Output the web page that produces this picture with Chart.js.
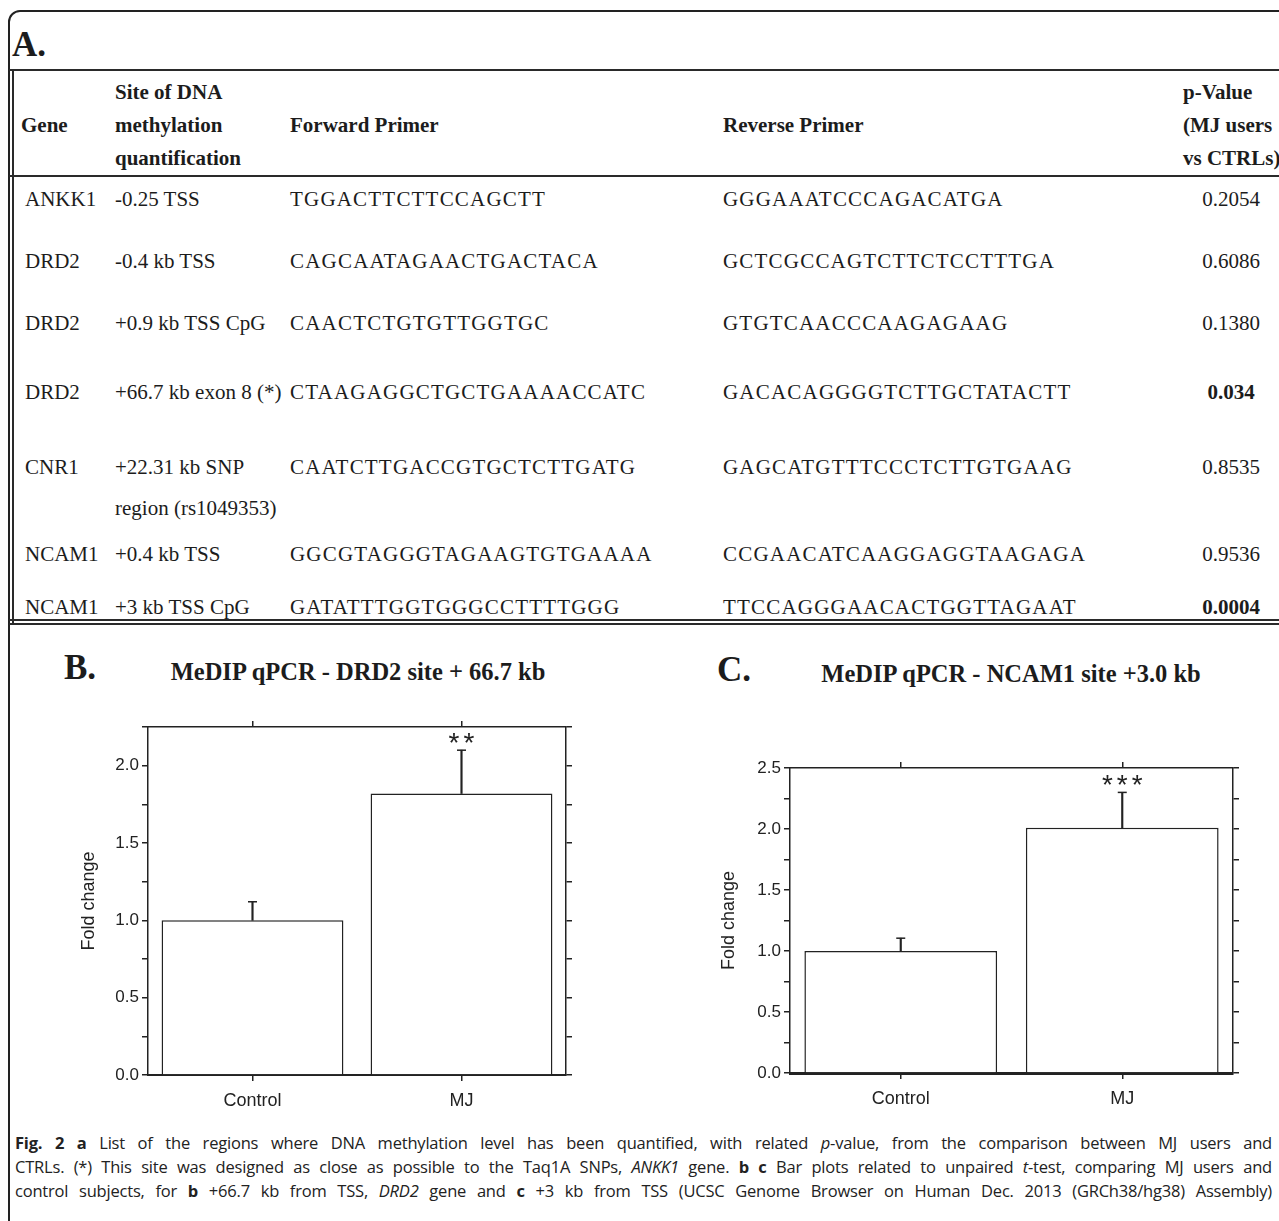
<!DOCTYPE html>
<html>
<head>
<meta charset="utf-8">
<script src="https://cdn.jsdelivr.net/npm/chart.js@4.4.1/dist/chart.umd.min.js"></script>
<style>
  html, body { margin:0; padding:0; background:#fff; }
  body { width:1279px; height:1221px; position:relative; overflow:hidden; color:#1c1c1c;
         font-family:"Liberation Serif","Times New Roman",serif; }
  .frame { position:absolute; left:8px; top:10px; width:1320px; height:1260px; border:2px solid #222;
           border-radius:12px; box-sizing:border-box; }
  .txt { position:absolute; white-space:nowrap; line-height:24px; height:24px; margin-top:-12px; font-size:21px; }
  .primer { letter-spacing:1.2px; }
  .ctr { transform:translateX(-50%); }
  .bold { font-weight:bold; }
  .hline { position:absolute; left:9px; width:1280px; background:#2a2a2a; }
  .vline { position:absolute; background:#2a2a2a; }
  .panel { position:absolute; font-weight:bold; font-size:35px; line-height:38px; margin-top:-19px; }
  .ctitle { position:absolute; font-weight:bold; font-size:24.5px; line-height:28px; margin-top:-14px;
            transform:translateX(-50%); white-space:nowrap; }
  .chartbox { position:absolute; }
  .cap { position:absolute; left:15px; width:1257px; font-family:"Open Sans",sans-serif; font-size:16.5px;
         letter-spacing:-0.2px; line-height:22px; margin-top:-11px; text-align:justify; text-align-last:justify; color:#222; }
</style>
</head>
<body>
<div class="frame"></div>
<div class="panel" style="left:12px; top:45px;">A.</div>
<div class="hline" style="top:69px;height:2px;"></div>
<div class="hline" style="top:175px;height:2px;"></div>
<div class="hline" style="top:619px;height:1.5px;"></div>
<div class="hline" style="top:623px;height:1.5px;"></div>
<div class="vline" style="left:12px;top:70px;width:1.5px;height:555px;"></div>
<div id="table"></div>

<div class="panel" style="left:64px; top:668px;">B.</div>
<div class="ctitle" style="left:358px; top:672px;">MeDIP qPCR - DRD2 site + 66.7 kb</div>
<div class="chartbox" style="left:74px; top:707px; width:502px; height:413px;"><canvas id="chartB"></canvas></div>

<div class="panel" style="left:717px; top:670px;">C.</div>
<div class="ctitle" style="left:1011px; top:674px;">MeDIP qPCR - NCAM1 site +3.0 kb</div>
<div class="chartbox" style="left:714px; top:748px; width:529px; height:370px;"><canvas id="chartC"></canvas></div>

<div class="cap" style="top:1143px;"><b>Fig. 2 a</b> List of the regions where DNA methylation level has been quantified, with related <i>p</i>-value, from the comparison between MJ users and</div>
<div class="cap" style="top:1167px;">CTRLs. (*) This site was designed as close as possible to the Taq1A SNPs, <i>ANKK1</i> gene. <b>b c</b> Bar plots related to unpaired <i>t</i>-test, comparing MJ users and</div>
<div class="cap" style="top:1191px;">control subjects, for <b>b</b> +66.7 kb from TSS, <i>DRD2</i> gene and <b>c</b> +3 kb from TSS (UCSC Genome Browser on Human Dec. 2013 (GRCh38/hg38) Assembly)</div>

<script>
// ---------- Table data ----------
const headerGene = 'Gene';
const headerSite = ['Site of DNA', 'methylation', 'quantification'];
const headerForward = 'Forward Primer';
const headerReverse = 'Reverse Primer';
const headerP = ['p-Value', '(MJ users', 'vs CTRLs)'];
const genes = ['ANKK1', 'DRD2', 'DRD2', 'DRD2', 'CNR1', 'NCAM1', 'NCAM1'];
const sites = [['-0.25 TSS'], ['-0.4 kb TSS'], ['+0.9 kb TSS CpG'], ['+66.7 kb exon 8 (*)'],
               ['+22.31 kb SNP', 'region (rs1049353)'], ['+0.4 kb TSS'], ['+3 kb TSS CpG']];
const forwardPrimers = ['TGGACTTCTTCCAGCTT', 'CAGCAATAGAACTGACTACA', 'CAACTCTGTGTTGGTGC',
                        'CTAAGAGGCTGCTGAAAACCATC', 'CAATCTTGACCGTGCTCTTGATG',
                        'GGCGTAGGGTAGAAGTGTGAAAA', 'GATATTTGGTGGGCCTTTTGGG'];
const reversePrimers = ['GGGAAATCCCAGACATGA', 'GCTCGCCAGTCTTCTCCTTTGA', 'GTGTCAACCCAAGAGAAG',
                        'GACACAGGGGTCTTGCTATACTT', 'GAGCATGTTTCCCTCTTGTGAAG',
                        'CCGAACATCAAGGAGGTAAGAGA', 'TTCCAGGGAACACTGGTTAGAAT'];
const pValues = ['0.2054', '0.6086', '0.1380', '0.034', '0.8535', '0.9536', '0.0004'];
const pSignificant = [false, false, false, true, false, false, true];

// ---------- Chart data ----------
const categories = ['Control', 'MJ'];
const drd2Means = [1.00, 1.82];
const drd2Errors = [0.12, 0.28];
const drd2Stars = ['', '**'];
const drd2YMax = 2.25;
const ncam1Means = [1.00, 2.01];
const ncam1Errors = [0.105, 0.29];
const ncam1Stars = ['', '***'];
const ncam1YMax = 2.5;
const yStep = 0.25;

// ---------- Table layout ----------
const colX = { gene: 25, site: 115, fwd: 290, rev: 723, pHead: 1183, p: 1231 };
const headerY = [92, 125, 158];
const rowY = [199, 261, 323, 392, 467, 554, 607];
const subLineGap = 41;

const tableEl = document.getElementById('table');
function addText(text, x, y, cls) {
  const d = document.createElement('div');
  d.className = 'txt ' + (cls || '');
  d.style.left = x + 'px';
  d.style.top = y + 'px';
  d.textContent = text;
  tableEl.appendChild(d);
}
addText(headerGene, 21, headerY[1], 'bold');
headerSite.forEach((t, i) => addText(t, colX.site, headerY[i], 'bold'));
addText(headerForward, colX.fwd, headerY[1], 'bold');
addText(headerReverse, colX.rev, headerY[1], 'bold');
headerP.forEach((t, i) => addText(t, colX.pHead, headerY[i], 'bold'));
genes.forEach((g, i) => {
  addText(g, colX.gene, rowY[i]);
  sites[i].forEach((s, k) => addText(s, colX.site, rowY[i] + k * subLineGap));
  addText(forwardPrimers[i], colX.fwd, rowY[i], 'primer');
  addText(reversePrimers[i], colX.rev, rowY[i], 'primer');
  addText(pValues[i], colX.p, rowY[i], 'ctr' + (pSignificant[i] ? ' bold' : ''));
});

// ---------- Charts ----------
const ink = '#222';
const sansFamily = '"Liberation Sans", Arial, Helvetica, sans-serif';

const starPlugin = {
  id: 'stars',
  afterDatasetsDraw(chart, args, opts) {
    const { ctx } = chart;
    const x = chart.scales.x, y = chart.scales.y;
    ctx.save();
    ctx.fillStyle = ink;
    ctx.font = '28px ' + sansFamily;
    ctx.textAlign = 'center';
    ctx.textBaseline = 'alphabetic';
    try { ctx.letterSpacing = '4px'; } catch (e) {}
    opts.labels.forEach((s, i) => {
      if (!s) return;
      const cx = x.getPixelForValue(i);
      const cy = y.getPixelForValue(opts.means[i] + opts.errors[i]);
      ctx.fillText(s, cx + 2, cy + 2);
    });
    ctx.restore();
  }
};

function buildChart(canvasId, means, errors, stars, yMax, yWidth, baseWidth) {
  const capValues = means.map((m, i) => m + errors[i]);
  const stems = means.map((m, i) => [m, m + errors[i]]);
  const gridCommon = { drawOnChartArea: false, tickLength: 6, color: ink, lineWidth: 1.5 };
  const isMajor = v => Math.round(v / yStep) % 2 === 0;
  return new Chart(document.getElementById(canvasId), {
    type: 'bar',
    data: {
      labels: categories,
      datasets: [
        { label: 'Fold change', data: means, backgroundColor: '#ffffff', borderColor: ink, borderWidth: 1.5,
          categoryPercentage: 1, barPercentage: 0.87, grouped: false, order: 3 },
        { label: 'SEM', data: stems, backgroundColor: ink, borderColor: ink, borderWidth: 0,
          barThickness: 1.5, grouped: false, order: 2 },
        { type: 'line', label: 'SEM cap', data: capValues, showLine: false, pointStyle: 'line',
          pointRadius: 4.5, pointHoverRadius: 4.5, pointBorderColor: ink, pointBorderWidth: 1.5, order: 1 }
      ]
    },
    options: {
      responsive: true, maintainAspectRatio: false, animation: false, devicePixelRatio: 1,
      events: [],
      layout: { padding: 0 },
      plugins: { legend: { display: false }, tooltip: { enabled: false },
                 stars: { labels: stars, means: means, errors: errors } },
      scales: {
        x: { type: 'category', position: 'bottom', offset: true,
             grid: Object.assign({ offset: false }, gridCommon),
             border: { display: true, color: ink, width: baseWidth },
             ticks: { color: ink, font: { family: sansFamily, size: 18 }, padding: 9 },
             afterFit(s) { s.height = 45; } },
        x2: { type: 'category', labels: categories, position: 'top', offset: true,
              grid: Object.assign({ offset: false }, gridCommon),
              border: { display: true, color: ink, width: 1.5 },
              ticks: { display: false },
              afterFit(s) { s.height = 20; } },
        y: { type: 'linear', position: 'left', min: 0, max: yMax,
             grid: gridCommon,
             border: { display: true, color: ink, width: 1.5 },
             ticks: { stepSize: yStep, color: ink, font: { family: sansFamily, size: 17 }, padding: 3,
                      autoSkip: false,
                      callback: v => isMajor(v) ? v.toFixed(1) : '' },
             title: { display: true, text: 'Fold change', color: ink, font: { family: sansFamily, size: 18 },
                      padding: { top: 4, bottom: 4 } },
             afterFit(s) { s.width = yWidth; } },
        y2: { type: 'linear', position: 'right', min: 0, max: yMax,
              grid: gridCommon,
              border: { display: true, color: ink, width: 1.5 },
              ticks: { stepSize: yStep, display: false },
              afterFit(s) { s.width = 10; } }
      }
    },
    plugins: [starPlugin]
  });
}

buildChart('chartB', drd2Means, drd2Errors, drd2Stars, drd2YMax, 74, 2);
buildChart('chartC', ncam1Means, ncam1Errors, ncam1Stars, ncam1YMax, 76, 3);
</script>
</body>
</html>
